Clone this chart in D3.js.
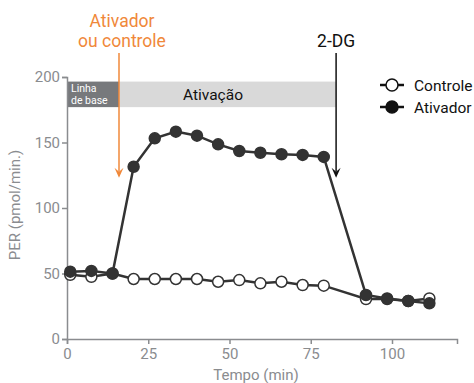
<!DOCTYPE html>
<html>
<head>
<meta charset="utf-8">
<script src="https://cdn.jsdelivr.net/npm/d3@7"></script>
<style>
  body { margin: 0; background: #fff; }
  svg { font-family: Roboto, "Noto Sans", sans-serif; }
</style>
</head>
<body>
<div id="container"><svg></svg></div>
<script>
let width = 474;
let height = 383;

// data
let times = [1, 7.5, 14, 20.5, 27, 33.5, 40, 46.5, 53, 59.5, 66, 72.5, 79, 92, 98.5, 105, 111.5];
let controle = [49, 47.5, 50, 45.8, 45.8, 45.8, 45.8, 43.7, 45, 42.5, 43.7, 41.2, 40.7, 30.5, 30.5, 29, 31];
let controleErr = [0, 0, 0, 0, 0, 0, 0, 0, 0, 0, 0, 0, 0, 3, 3, 0, 0];
let ativador = [51.4, 52, 50, 131.5, 153.2, 158.3, 155.2, 148.6, 143.5, 142.2, 141, 140.5, 139, 33.6, 31, 29, 27.2];
let ativadorErr = [0, 0, 0, 0, 0, 0, 0, 0, 0, 0, 0, 0, 0, 2, 2, 0, 0];
let xTicks = [0, 25, 50, 75, 100];
let yTicks = [0, 50, 100, 150, 200];
let phases = [
  {label: ['Linha', 'de base'], start: 0, end: 16},
  {label: ['Ativação'], start: 16, end: 82.8}
];
let arrows = [
  {label: ['Ativador', 'ou controle'], x: 16, color: '#f0883a'},
  {label: ['2-DG'], x: 82.8, color: '#111'}
];

let svg = d3.select('#container').select('svg')
  .attr('width', width)
  .attr('height', height);

let xScale = d3.scaleLinear().domain([0, 120]).range([67, 457]);
let yScale = d3.scaleLinear().domain([0, 200]).range([339, 77]);

// phase boxes
let phaseG = svg.append('g');
phaseG.selectAll('rect')
  .data(phases)
  .join('rect')
  .attr('x', d => xScale(d.start))
  .attr('width', d => xScale(d.end) - xScale(d.start))
  .attr('y', yScale(196.5))
  .attr('height', yScale(177) - yScale(196.5))
  .attr('fill', (d, i) => i == 0 ? '#77797c' : '#d9d9d9');

phaseG.selectAll('text.base')
  .data(phases[0].label)
  .join('text')
  .attr('class', 'base')
  .attr('x', xScale(0) + 4)
  .attr('y', (d, i) => yScale(196.5) + 10.5 + i * 11.5)
  .attr('fill', '#fff')
  .attr('font-size', 10.5)
  .text(d => d);

phaseG.append('text')
  .attr('x', 213)
  .attr('y', (yScale(196.5) + yScale(177)) / 2 + 5.5)
  .attr('text-anchor', 'middle')
  .attr('font-size', 15.5)
  .attr('fill', '#111')
  .text(phases[1].label[0]);

// axes
let xAxis = d3.axisBottom(xScale).tickValues(xTicks).tickSizeOuter(0).tickSize(5).tickPadding(4);
let yAxis = d3.axisLeft(yScale).tickValues(yTicks).tickSizeOuter(0).tickSize(5).tickPadding(2);

let gx = svg.append('g').attr('transform', `translate(0,${yScale(0)})`).call(xAxis);
let gy = svg.append('g').attr('transform', `translate(${xScale(0)},0)`).call(yAxis);
[gx, gy].forEach(g => {
  g.select('.domain').attr('stroke', '#8a8c8f').attr('stroke-width', 1.5);
  g.selectAll('.tick line').attr('stroke', '#8a8c8f').attr('stroke-width', 1.5);
  g.selectAll('.tick text').attr('fill', '#8a8c8f').attr('font-size', 15)
    .style('font-family', 'Roboto, "Noto Sans", sans-serif');
});

svg.append('text')
  .attr('x', 256)
  .attr('y', 380)
  .attr('text-anchor', 'middle')
  .attr('fill', '#8a8c8f')
  .attr('font-size', 15)
  .text('Tempo (min)');

svg.append('text')
  .attr('transform', `translate(20,${205}) rotate(-90)`)
  .attr('text-anchor', 'middle')
  .attr('fill', '#8a8c8f')
  .attr('font-size', 15)
  .text('PER (pmol/min.)');

// series
let series = [
  {name: 'Controle', values: controle, err: controleErr, fill: '#fff'},
  {name: 'Ativador', values: ativador, err: ativadorErr, fill: '#333'}
];

let line = d3.line()
  .x((d, i) => xScale(times[i]))
  .y(d => yScale(d));

series.forEach(s => {
  let g = svg.append('g');
  g.selectAll('path.err')
    .data(s.values.map((v, i) => ({v: v, e: s.err[i], t: times[i]})).filter(d => d.e > 0))
    .join('path')
    .attr('class', 'err')
    .attr('d', d => {
      let x = xScale(d.t), y0 = yScale(d.v - d.e), y1 = yScale(d.v + d.e);
      return `M${x},${y0}V${y1}M${x - 4},${y0}H${x + 4}M${x - 4},${y1}H${x + 4}`;
    })
    .attr('stroke', '#777')
    .attr('stroke-width', 1.2)
    .attr('fill', 'none');
  g.append('path')
    .datum(s.values)
    .attr('d', line)
    .attr('fill', 'none')
    .attr('stroke', '#333')
    .attr('stroke-width', 2.5);
  g.selectAll('circle')
    .data(s.values)
    .join('circle')
    .attr('cx', (d, i) => xScale(times[i]))
    .attr('cy', d => yScale(d))
    .attr('r', 5.5)
    .attr('fill', s.fill)
    .attr('stroke', '#333')
    .attr('stroke-width', 1.5);
});

// annotation arrows
arrows.forEach(a => {
  let x = xScale(a.x);
  let yTop = 53, yTip = yScale(123);
  let g = svg.append('g');
  g.append('line')
    .attr('x1', x).attr('x2', x)
    .attr('y1', yTop).attr('y2', yTip - 6)
    .attr('stroke', a.color)
    .attr('stroke-width', 1.5);
  g.append('path')
    .attr('d', `M${x - 4.5},${yTip - 10}L${x},${yTip}L${x + 4.5},${yTip - 10}L${x},${yTip - 6}Z`)
    .attr('fill', a.color);
  g.append('text')
    .attr('text-anchor', 'middle')
    .attr('fill', a.color)
    .attr('font-size', 17.5)
    .selectAll('tspan')
    .data(a.label)
    .join('tspan')
    .attr('x', x + (a.label.length > 1 ? 3 : 0))
    .attr('y', (d, i) => 47 - (a.label.length - 1 - i) * 20)
    .text(d => d);
});

// legend
let legend = svg.append('g').attr('transform', 'translate(380,85)');
let li = legend.selectAll('g')
  .data(series)
  .join('g')
  .attr('transform', (d, i) => `translate(0,${i * 22})`);
li.append('line')
  .attr('x1', 0).attr('x2', 24)
  .attr('stroke', '#111')
  .attr('stroke-width', 2.5);
li.append('circle')
  .attr('cx', 12)
  .attr('r', 6)
  .attr('fill', d => d.fill == '#fff' ? '#fff' : '#111')
  .attr('stroke', '#111')
  .attr('stroke-width', 1.5);
li.append('text')
  .attr('x', 34)
  .attr('y', 5.5)
  .attr('font-size', 15.5)
  .attr('fill', '#111')
  .text(d => d.name);
</script>
</body>
</html>
